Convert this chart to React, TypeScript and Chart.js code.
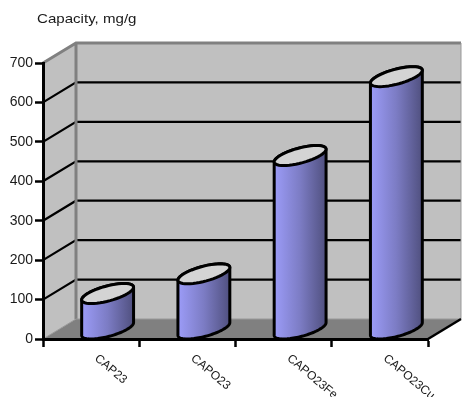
import { useEffect, useRef } from "react";
import { Chart, registerables } from "chart.js";

Chart.register(...registerables);

const categories = ["CAP23", "CAPO23", "CAPO23Fe", "CAPO23Cu"];
const capacity = [90, 140, 440, 640];
const axisCaption = "Capacity, mg/g";
const yMax = 700;
const yStep = 100;

// Oblique projection vector of the chart box
const DEPTH_X = 33;
const DEPTH_Y = 20;
const FONT = '"Liberation Sans", Arial, sans-serif';

const boxPlugin = {
  id: "box3d",
  beforeDraw(chart: any) {
    const { ctx, chartArea: a, scales } = chart;
    const { left: l, right: r, top: t, bottom: b } = a;
    ctx.save();
    // Back and side walls
    ctx.fillStyle = "#C0C0C0";
    ctx.beginPath();
    ctx.moveTo(l, b);
    ctx.lineTo(l, t);
    ctx.lineTo(l + DEPTH_X, t - DEPTH_Y);
    ctx.lineTo(r + DEPTH_X, t - DEPTH_Y);
    ctx.lineTo(r + DEPTH_X, b - DEPTH_Y);
    ctx.lineTo(l + DEPTH_X, b - DEPTH_Y);
    ctx.closePath();
    ctx.fill();
    // Floor
    ctx.fillStyle = "#808080";
    ctx.beginPath();
    ctx.moveTo(l, b);
    ctx.lineTo(l + DEPTH_X, b - DEPTH_Y);
    ctx.lineTo(r + DEPTH_X, b - DEPTH_Y);
    ctx.lineTo(r, b);
    ctx.closePath();
    ctx.fill();
    // Grid lines wrapping side and back walls
    ctx.strokeStyle = "#000";
    ctx.lineWidth = 2.2;
    for (let v = yStep; v < yMax; v += yStep) {
      const y = scales.y.getPixelForValue(v);
      ctx.beginPath();
      ctx.moveTo(l, y);
      ctx.lineTo(l + DEPTH_X, y - DEPTH_Y);
      ctx.lineTo(r + DEPTH_X, y - DEPTH_Y);
      ctx.stroke();
    }
    // Gray wall frame
    ctx.strokeStyle = "#808080";
    ctx.lineWidth = 3;
    ctx.beginPath();
    ctx.moveTo(l, t);
    ctx.lineTo(l + DEPTH_X, t - DEPTH_Y);
    ctx.lineTo(r + DEPTH_X, t - DEPTH_Y);
    ctx.moveTo(l + DEPTH_X, t - DEPTH_Y);
    ctx.lineTo(l + DEPTH_X, b - DEPTH_Y);
    ctx.stroke();
    ctx.lineWidth = 1;
    ctx.strokeStyle = "#999";
    ctx.beginPath();
    ctx.moveTo(r + DEPTH_X, t - DEPTH_Y);
    ctx.lineTo(r + DEPTH_X, b - DEPTH_Y);
    ctx.lineTo(l + DEPTH_X, b - DEPTH_Y);
    ctx.lineTo(l, b);
    ctx.stroke();
    // Floor's right edge
    ctx.strokeStyle = "#000";
    ctx.lineWidth = 2.5;
    ctx.beginPath();
    ctx.moveTo(r, b);
    ctx.lineTo(r + DEPTH_X, b - DEPTH_Y);
    ctx.stroke();
    ctx.restore();
  },
  afterDatasetsDraw(chart: any) {
    const { ctx, chartArea: a, scales } = chart;
    const meta = chart.getDatasetMeta(0);
    const zero = scales.y.getPixelForValue(0);
    ctx.save();
    meta.data.forEach((bar: any) => {
      const rx = bar.width / 2;
      const sx = DEPTH_X / 2;
      const sy = DEPTH_Y / 2;
      const cx = bar.x + sx;
      const top = bar.y - sy;
      const base = zero - sy;
      const halfW = Math.hypot(rx, sx);
      const tMax = Math.atan2(sx, rx);
      const px = (t: number) => cx + rx * Math.cos(t) + sx * Math.sin(t);
      const py = (c: number, t: number) => c - sy * Math.sin(t);
      const ringPath = (c: number, from: number, to: number, move: boolean) => {
        const n = 48;
        for (let i = 0; i <= n; i++) {
          const t = from + ((to - from) * i) / n;
          if (i === 0 && move) ctx.moveTo(px(t), py(c, t));
          else ctx.lineTo(px(t), py(c, t));
        }
      };
      // Cylinder wall
      const grad = ctx.createLinearGradient(cx - halfW, 0, cx + halfW, 0);
      grad.addColorStop(0, "#9C9CF8");
      grad.addColorStop(0.5, "#7C7CC4");
      grad.addColorStop(1, "#50507F");
      ctx.beginPath();
      ringPath(top, tMax + Math.PI, tMax, true);
      ringPath(base, tMax, tMax - Math.PI, false);
      ctx.closePath();
      ctx.fillStyle = grad;
      ctx.fill();
      ctx.strokeStyle = "#000";
      ctx.lineWidth = 3;
      ctx.lineJoin = "round";
      ctx.stroke();
      // Cylinder cap
      ctx.beginPath();
      ringPath(top, 0, Math.PI * 2, true);
      ctx.closePath();
      ctx.fillStyle = "#D4D4D4";
      ctx.fill();
      ctx.stroke();
    });
    // Rotated category labels
    ctx.fillStyle = "#1a1a1a";
    ctx.font = `12px ${FONT}`;
    ctx.textAlign = "left";
    ctx.textBaseline = "middle";
    categories.forEach((label, i) => {
      const x = scales.x.getPixelForValue(i);
      ctx.save();
      ctx.translate(x + 5, a.bottom + 18);
      ctx.rotate((40 * Math.PI) / 180);
      ctx.fillText(label, 0, 0);
      ctx.restore();
    });
    // Axis caption, slightly widened
    ctx.font = `13px ${FONT}`;
    ctx.fillStyle = "#1a1a1a";
    ctx.textBaseline = "alphabetic";
    ctx.translate(37, 23);
    ctx.scale(1.16, 1);
    ctx.fillText(axisCaption, 0, 0);
    ctx.restore();
  },
};

export default function App() {
  const ref = useRef<HTMLCanvasElement>(null);
  useEffect(() => {
    document.body.style.margin = "0";
    const chart = new Chart(ref.current!, {
      type: "bar",
      data: {
        labels: categories,
        datasets: [
          {
            data: capacity,
            backgroundColor: "rgba(0,0,0,0)",
            borderWidth: 0,
            barPercentage: 0.416,
            categoryPercentage: 1,
          },
        ],
      },
      options: {
        responsive: false,
        animation: false,
        layout: { padding: { left: 0, right: 35, top: 63, bottom: 0 } },
        plugins: { legend: { display: false }, tooltip: { enabled: false } },
        scales: {
          x: {
            afterFit: (s: any) => {
              s.height = 58;
            },
            offset: true,
            border: { color: "#000", width: 3 },
            grid: {
              offset: true,
              drawOnChartArea: false,
              tickLength: 8,
              tickColor: "#000",
              tickWidth: 2.5,
            },
            ticks: { display: false },
          },
          y: {
            min: 0,
            max: yMax,
            afterFit: (s: any) => {
              s.width = 43;
            },
            border: { color: "#000", width: 3 },
            grid: {
              drawOnChartArea: false,
              tickLength: 8,
              tickColor: "#000",
              tickWidth: 2.5,
            },
            ticks: {
              stepSize: yStep,
              padding: 2,
              color: "#1a1a1a",
              font: { family: FONT, size: 14 },
            },
          },
        },
      },
      plugins: [boxPlugin],
    });
    return () => chart.destroy();
  }, []);
  return <canvas ref={ref} width={463} height={397} style={{ display: "block" }} />;
}
